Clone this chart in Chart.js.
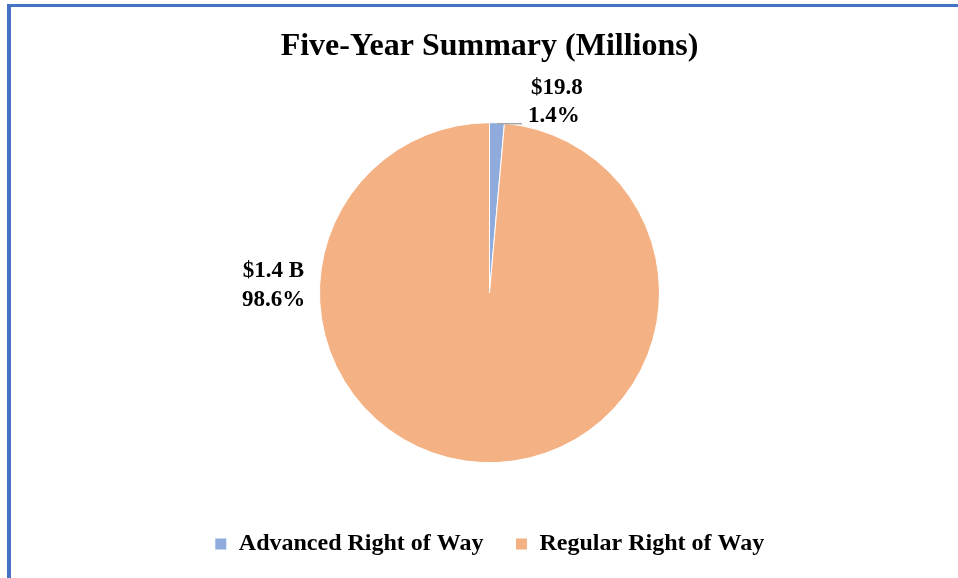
<!DOCTYPE html>
<html>
<head>
<meta charset="utf-8">
<script src="https://cdn.jsdelivr.net/npm/chart.js@4.4.1/dist/chart.umd.min.js"></script>
<style>
  html, body { margin: 0; padding: 0; background: #fff; }
  #frame {
    position: absolute; left: 7px; top: 4px; width: 947px; height: 571px;
    border-top: 3px solid #4472C4; border-left: 4px solid #4472C4;
  }
  #frame canvas { display: block; }
</style>
</head>
<body>
<div id="frame"><canvas id="pieChart" width="947" height="571"></canvas></div>
<script>
// data
const categories = ['Advanced Right of Way', 'Regular Right of Way'];
const amounts = [19.8, 1394.2];          // millions
const amountLabels = ['$19.8', '$1.4 B'];
const percentLabels = ['1.4%', '98.6%'];
const sliceColors = ['#8FAADC', '#F4B183'];

const serif = '"Liberation Serif", "Times New Roman", serif';

// data labels: small slice gets a leader line, big slice sits on the left
const pieLabels = {
  id: 'pieLabels',
  afterDatasetsDraw(chart) {
    const ctx = chart.ctx;
    const arcs = chart.getDatasetMeta(0).data;
    ctx.save();
    ctx.font = 'bold 23px ' + serif;
    ctx.fillStyle = '#000';
    ctx.textBaseline = 'middle';

    // small slice
    const a = arcs[0];
    const mid = (a.startAngle + a.endAngle) / 2;
    const ex = a.x + a.outerRadius * Math.cos(mid);
    const ey = a.y - a.outerRadius + 1;
    ctx.strokeStyle = '#A6A6A6';
    ctx.lineWidth = 1.5;
    ctx.beginPath();
    ctx.moveTo(ex, ey);
    ctx.lineTo(ex + 25, ey);
    ctx.stroke();
    ctx.textAlign = 'center';
    ctx.fillText(amountLabels[0], ex + 60, ey - 36);
    ctx.fillText(percentLabels[0], ex + 57, ey - 8);

    // big slice
    const b = arcs[1];
    const lx = b.x - b.outerRadius - 46;
    ctx.fillText(amountLabels[1], lx, b.y - 22);
    ctx.fillText(percentLabels[1], lx, b.y + 7);
    ctx.restore();
  }
};

new Chart(document.getElementById('pieChart'), {
  type: 'pie',
  data: {
    labels: categories,
    datasets: [{
      data: amounts,
      backgroundColor: sliceColors,
      borderColor: '#fff',
      borderWidth: 1,
      radius: 170
    }]
  },
  options: {
    responsive: false,
    animation: false,
    layout: { padding: { left: 10, right: 0, top: 0, bottom: 12 } },
    plugins: {
      tooltip: { enabled: false },
      title: {
        display: true,
        text: 'Five-Year Summary (Millions)',
        color: '#000',
        font: { family: serif, size: 32, weight: 'bold' },
        padding: { top: 21, bottom: 19 }
      },
      legend: {
        position: 'bottom',
        labels: {
          color: '#000',
          font: { family: serif, size: 24, weight: 'bold' },
          boxWidth: 12,
          boxHeight: 12,
          padding: 32
        }
      }
    }
  },
  plugins: [pieLabels]
});
</script>
</body>
</html>
